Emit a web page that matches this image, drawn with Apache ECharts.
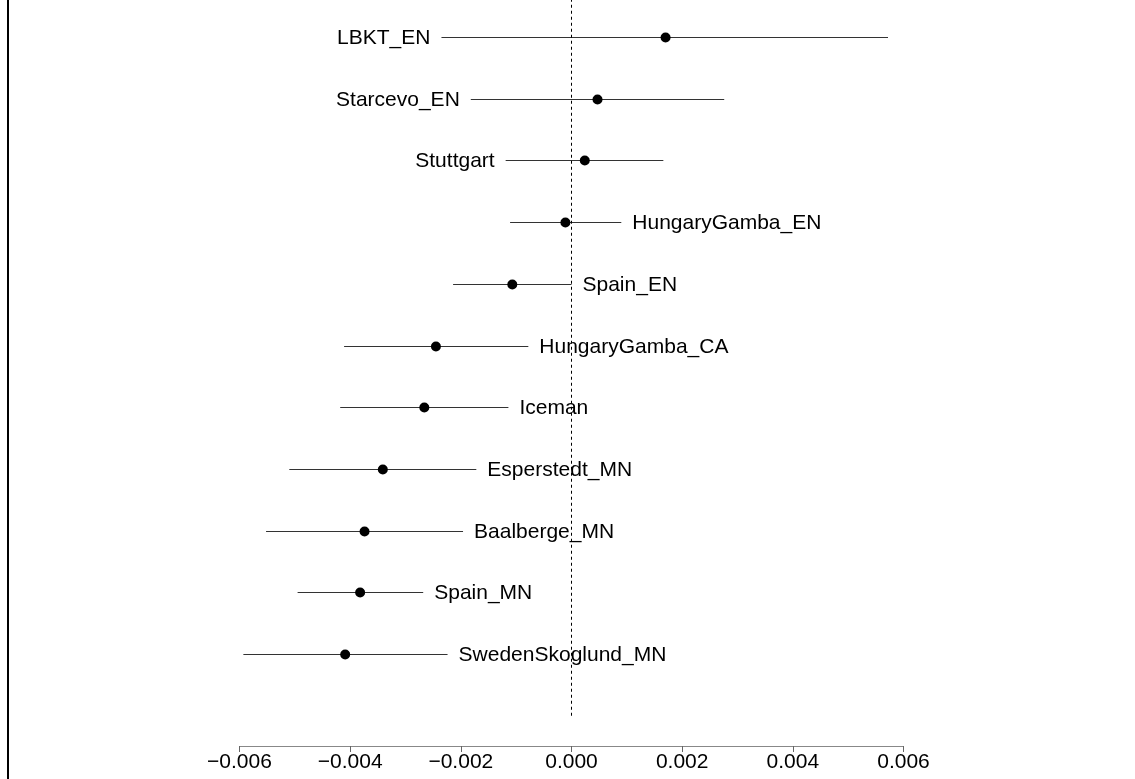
<!DOCTYPE html>
<html>
<head>
<meta charset="utf-8">
<script src="https://cdn.jsdelivr.net/npm/echarts@6/dist/echarts.min.js"></script>
<style>
html,body{margin:0;padding:0;background:#fff;}
#chart{width:1135px;height:779px;}
</style>
</head>
<body>
<div id="chart"></div>
<script>
// Populations, top to bottom
const categories = ["LBKT_EN","Starcevo_EN","Stuttgart","HungaryGamba_EN","Spain_EN","HungaryGamba_CA","Iceman","Esperstedt_MN","Baalberge_MN","Spain_MN","SwedenSkoglund_MN"];
const estimates = [0.00170, 0.00047, 0.00024, -0.00011, -0.00107, -0.00245, -0.00266, -0.00341, -0.00374, -0.00382, -0.00409];
const lowerCI   = [-0.00235, -0.00182, -0.00119, -0.00111, -0.00214, -0.00411, -0.00418, -0.00510, -0.00552, -0.00495, -0.00593];
const upperCI   = [0.00572, 0.00276, 0.00166, 0.00090, 0.00000, -0.00078, -0.00114, -0.00172, -0.00196, -0.00268, -0.00224];
const xTickMin = -0.006, xTickMax = 0.006, xTickStep = 0.002;
const refLineX = 0;

const n = categories.length;
const rows = categories.map((c, i) => [i, estimates[i], lowerCI[i], upperCI[i], n - i]);
const FONT = '"Liberation Sans", Arial, Helvetica, sans-serif';

const chart = echarts.init(document.getElementById('chart'));
chart.setOption({
  animation: false,
  backgroundColor: '#ffffff',
  grid: { left: 239.5, right: 231.5, top: 0, bottom: 33 },
  xAxis: {
    type: 'value', min: xTickMin, max: xTickMax, interval: xTickStep,
    splitLine: { show: false },
    axisLine: { show: true, onZero: false, lineStyle: { color: '#888', width: 1 } },
    axisTick: { show: true, length: 6, lineStyle: { color: '#666', width: 1 } },
    axisLabel: {
      margin: 6, color: '#000', fontSize: 21, fontFamily: FONT,
      formatter: v => v.toFixed(3).replace('-', '\u2212')
    }
  },
  yAxis: { type: 'value', min: -0.49, max: 11.6, show: false },
  graphic: [
    { type: 'rect', shape: { x: 7, y: 0, width: 2, height: 779 }, style: { fill: '#000' } }
  ],
  series: [{
    type: 'line',
    data: [[refLineX, 0], [refLineX, 11.6]],
    symbol: 'none', silent: true,
    lineStyle: { color: '#000', width: 1, type: [3, 3] }
  }, {
    type: 'custom',
    data: rows,
    encode: { x: [1, 2, 3], y: 4 },
    renderItem: function (params, api) {
      const y = api.value(4);
      const est = api.value(1);
      const pLo = api.coord([api.value(2), y]);
      const pHi = api.coord([api.value(3), y]);
      const pEst = api.coord([est, y]);
      const leftSide = est > 0;
      const yy = Math.round(pEst[1]) + 0.5;
      return {
        type: 'group',
        children: [
          { type: 'line', shape: { x1: pLo[0], y1: yy, x2: pHi[0], y2: yy },
            style: { stroke: '#333', lineWidth: 1 } },
          { type: 'circle', shape: { cx: pEst[0], cy: yy, r: 5 },
            style: { fill: '#000' }, z2: 10 },
          { type: 'text',
            style: {
              text: categories[params.dataIndex],
              x: leftSide ? pLo[0] - 11 : pHi[0] + 11,
              y: yy + 1,
              align: leftSide ? 'right' : 'left',
              verticalAlign: 'middle',
              fill: '#000', fontSize: 21, fontFamily: FONT
            } }
        ]
      };
    }
  }]
});
</script>
</body>
</html>
